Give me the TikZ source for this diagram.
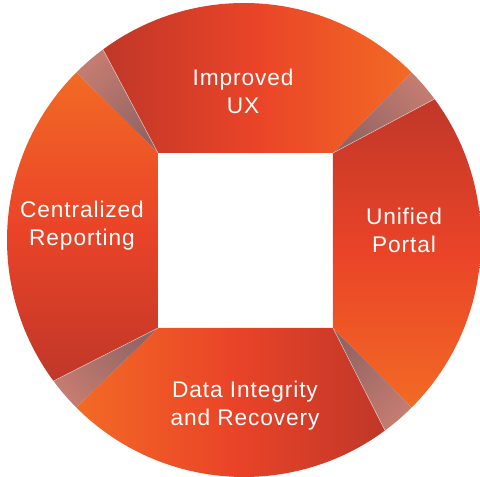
\documentclass[tikz,border=0pt]{standalone}
\usepackage{fontspec}
\setmainfont[LetterSpace=4]{Liberation Sans}
\usetikzlibrary{calc}
\definecolor{segdark}{RGB}{192,55,40}
\definecolor{segred}{RGB}{234,68,40}
\definecolor{segorange}{RGB}{242,106,36}
\definecolor{foldout}{RGB}{196,124,112}
\definecolor{foldin}{RGB}{146,100,100}
\begin{document}
\begin{tikzpicture}[x=0.75pt,y=0.75pt,
  lbl/.style={text=white, font=\fontsize{17}{21}\selectfont, align=center},
  fold/.style={top color=foldout, bottom color=foldin},
  edgehl/.style={draw=white, draw opacity=0.55, line width=0.4pt}]
\useasboundingbox (0,0) rectangle (480,477);
\def\R{177.75pt}
\coordinate (C) at (244,237);
\coordinate (TL) at (158,324);
\coordinate (TR) at (333,324);
\coordinate (BR) at (333,149);
\coordinate (BL) at (158,149);
% segments
\path[left color=segdark, right color=segorange, middle color=segred]
  (TL) -- ($(C)+(126.5:\R)$) arc[start angle=126.5, end angle=45, radius=\R] -- (TR) -- cycle;
\path[top color=segdark, bottom color=segorange, middle color=segred]
  (TR) -- ($(C)+(36.5:\R)$) arc[start angle=36.5, end angle=-45, radius=\R] -- (BR) -- cycle;
\path[left color=segorange, right color=segdark, middle color=segred]
  (BR) -- ($(C)+(-53.5:\R)$) arc[start angle=-53.5, end angle=-135, radius=\R] -- (BL) -- cycle;
\path[top color=segorange, bottom color=segdark, middle color=segred]
  (BL) -- ($(C)+(-143.5:\R)$) arc[start angle=-143.5, end angle=-225, radius=\R] -- (TL) -- cycle;
% folds
\path[fold, shading angle=45]
  (TL) -- ($(C)+(135:\R)$) arc[start angle=135, end angle=126.5, radius=\R] -- cycle;
\path[fold, shading angle=-45]
  (TR) -- ($(C)+(45:\R)$) arc[start angle=45, end angle=36.5, radius=\R] -- cycle;
\path[fold, shading angle=-135]
  (BR) -- ($(C)+(-45:\R)$) arc[start angle=-45, end angle=-53.5, radius=\R] -- cycle;
\path[fold, shading angle=135]
  (BL) -- ($(C)+(-135:\R)$) arc[start angle=-135, end angle=-143.5, radius=\R] -- cycle;
% highlights
\path[edgehl] (TL) -- ($(C)+(126.5:\R)$);
\path[edgehl] (TR) -- ($(C)+(36.5:\R)$);
\path[edgehl] (BR) -- ($(C)+(-53.5:\R)$);
\path[edgehl] (BL) -- ($(C)+(-143.5:\R)$);
% labels
\node[lbl] (ux) at (243,386) {Improved\\UX};
\node[lbl] (portal) at (404,247) {Unified\\Portal};
\node[lbl] (data) at (245,71) {Data Integrity\\and Recovery};
\node[lbl] (rep) at (82,251) {Centralized\\Reporting};
\end{tikzpicture}
\end{document}
